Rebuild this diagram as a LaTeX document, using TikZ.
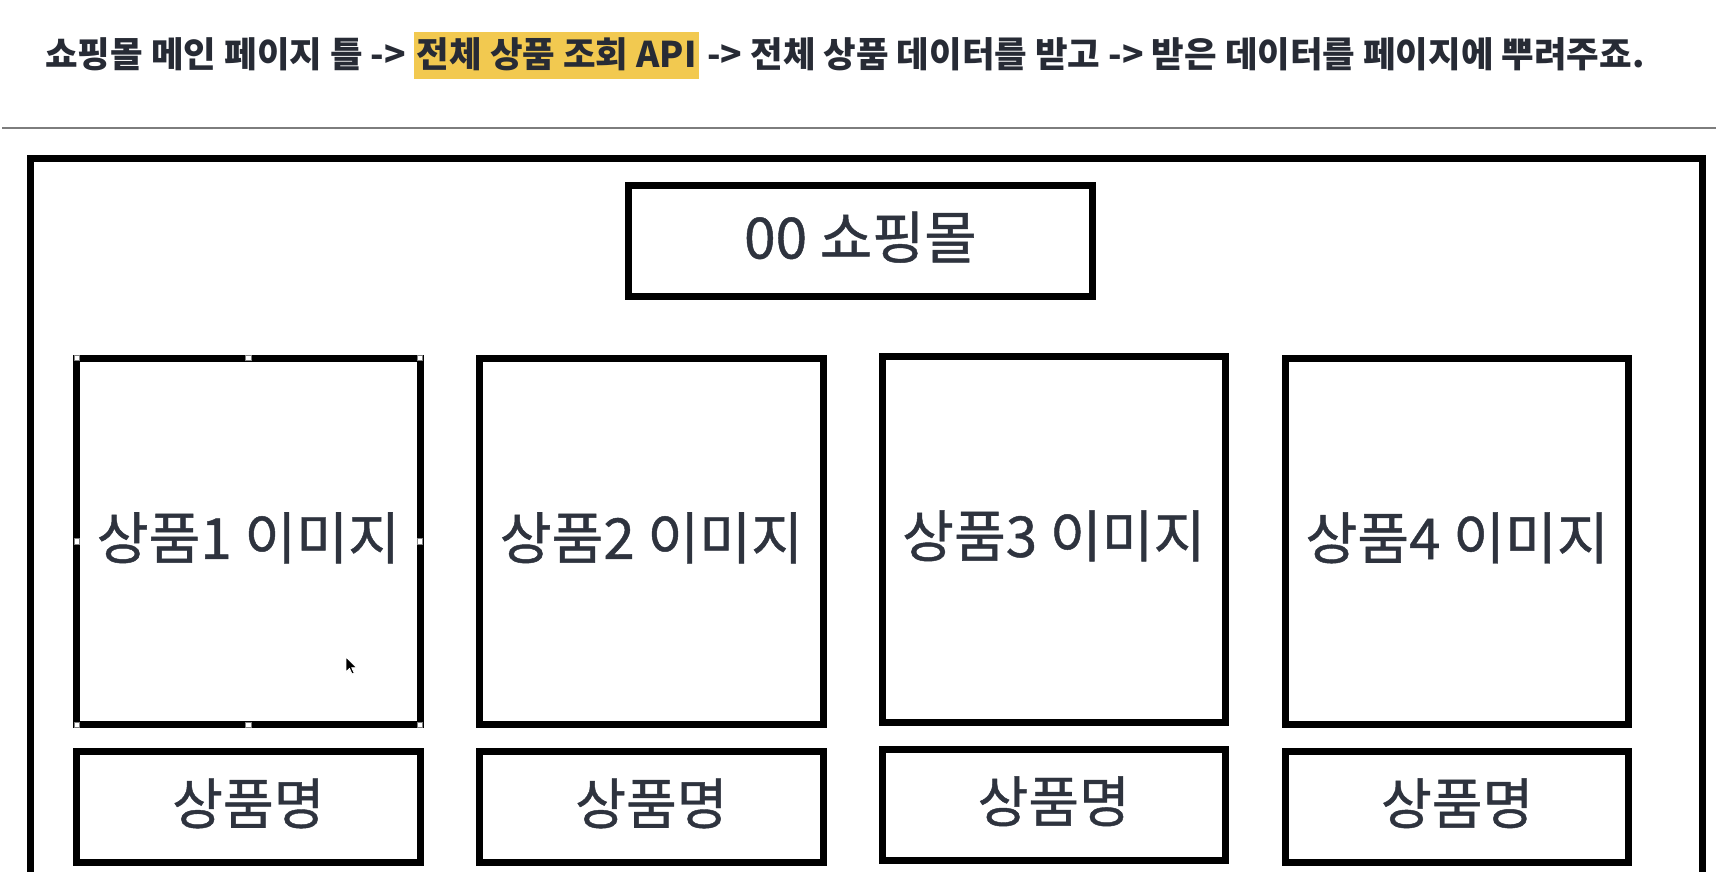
\documentclass[tikz,border=0pt]{standalone}
\usepackage{fontspec}
\setmainfont{Noto Sans CJK KR}
\newfontfamily\krmed{Noto Sans CJK KR}[FakeBold=0.8]
\definecolor{hl}{RGB}{242,201,80}
\definecolor{ink}{RGB}{39,43,53}
\definecolor{boxink}{RGB}{46,51,62}
\definecolor{rulegray}{RGB}{125,125,125}
\tikzset{
  frameline/.style={line width=3.5pt, draw=black},
  boxbase/.style={draw=black, line width=3.5pt, inner sep=0pt, outer sep=0pt,
    text=boxink, text depth=5.8pt},
  imgbox/.style={boxbase, minimum width=171.65pt, minimum height=183.35pt,
    font=\krmed\fontsize{28.2pt}{32pt}\selectfont},
  namebox/.style={boxbase, minimum width=171.65pt, minimum height=55.4pt,
    font=\krmed\fontsize{27.6pt}{32pt}\selectfont},
  titlebox/.style={boxbase, minimum width=231.65pt, minimum height=55.5pt,
    font=\krmed\fontsize{28.4pt}{32pt}\selectfont},
  handle/.style={draw=gray, fill=white, line width=0.4pt, inner sep=0pt,
    minimum size=2.6pt, outer sep=0pt}
}
\begin{document}
\begin{tikzpicture}[x=0.5pt, y=-0.5pt]
\useasboundingbox (0,0) rectangle (1718,872);
\clip (0,0) rectangle (1718,872);
\fill[white] (0,0) rectangle (1718,872);
% heading line
\node[anchor=base west, inner sep=0pt, text=ink,
  font=\fontsize{17.7pt}{21pt}\selectfont\bfseries] (heading) at (45,68)
  {쇼핑몰 메인 페이지 틀 -> {\fboxsep=1.3pt\colorbox{hl}{\vrule width 0pt height 16.85pt depth 4.3pt 전체 상품 조회 API}} -> 전체 상품 데이터를 받고 -> 받은 데이터를 페이지에 뿌려주죠.};
% separator rule
\coordinate (ruleL) at (2,128);
\coordinate (ruleR) at (1716,128);
\draw[rulegray, line width=1pt] (ruleL) -- (ruleR);
% outer frame
\draw[frameline] (30,1000) -- (30,158) -- (1702,158) -- (1702,1000);
% title box
\node[titlebox] (shop) at (860.35,240.8) {00 쇼핑몰};
% image boxes
\node[imgbox] (img1) at (248.35,541.35) {상품1 이미지};
\node[imgbox] (img2) at (651.35,541.35) {상품2 이미지};
\node[imgbox] (img3) at (1053.75,539.4) {상품3 이미지};
\node[imgbox] (img4) at (1457.1,541.5) {상품4 이미지};
% name boxes
\node[namebox] (name1) at (248.35,807.1) {상품명};
\node[namebox] (name2) at (651.35,807.1) {상품명};
\node[namebox] (name3) at (1053.75,805) {상품명};
\node[namebox] (name4) at (1457.1,806.9) {상품명};
% selection handles on first image box
\foreach \a in {north west,north,north east,east,south east,south,south west,west}
  \node[handle] at (img1.\a) {};
% mouse cursor
\coordinate (cur) at (346,657);
\fill[black, draw=white, line width=0.4pt]
  (cur) -- ++(0,15) -- ++(3.5,-3.5) -- ++(2.5,5.5) -- ++(2.2,-1) -- ++(-2.5,-5.3) -- ++(4.8,0) -- cycle;
\end{tikzpicture}
\end{document}
